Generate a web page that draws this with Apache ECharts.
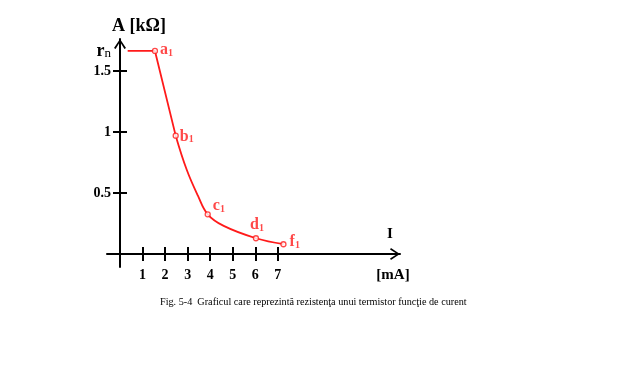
<!DOCTYPE html>
<html>
<head>
<meta charset="utf-8">
<script src="https://cdn.jsdelivr.net/npm/echarts@6/dist/echarts.min.js"></script>
<style>
html,body{margin:0;padding:0;background:#fff;}
#c{width:624px;height:370px;}
</style>
</head>
<body>
<div id="c"></div>
<script>
// ---- data ----
const xTicks = [1, 2, 3, 4, 5, 6, 7];
const yTicks = [0.5, 1, 1.5];
const rnValue = 1.664;
const segX = [0.34, 1.55, 2.47];
const segY = [1.664, 1.664, 0.97];
const curveX = [2.47, 2.96, 3.45, 3.89, 4.6, 6.03, 7.25];
const curveY = [0.97, 0.69, 0.48, 0.325, 0.23, 0.129, 0.08];
const markX = [1.55, 2.47, 3.89, 6.03, 7.25];
const markY = [1.664, 0.97, 0.325, 0.129, 0.08];
const markNames = ['a', 'b', 'c', 'd', 'f'];
const caption = 'Fig. 5-4  Graficul care reprezintă rezistenţa unui termistor funcţie de curent';

const serif = '"Liberation Serif", "Times New Roman", serif';
const red = '#ff1a1a';
const chevron = 'path://M0,9 L6,0 L12,9 L10.4,9.9 L6,2.8 L1.6,9.9 Z';

const labelPos = {
  a: {position: 'right', offset: [-1, -1]},
  b: {position: 'right', offset: [-2, 1]},
  c: {position: 'right', offset: [-1, -8]},
  d: {position: 'top', offset: [1, 1]},
  f: {position: 'right', offset: [0, -2]}
};

const pointRich = {
  m: {fontFamily: serif, fontSize: 16, fontWeight: 'bold', color: red, verticalAlign: 'bottom', lineHeight: 16},
  s: {fontFamily: serif, fontSize: 10, fontWeight: 'bold', color: red, verticalAlign: 'bottom', lineHeight: 16}
};

const chart = echarts.init(document.getElementById('c'), null, {renderer: 'canvas'});

const xMin = -0.577, xMax = 12.42;
const yMin = -0.1066, yMax = 1.762;

const tickLabelStyle = {fontFamily: serif, fontSize: 14, fontWeight: 'bold', color: '#000'};

chart.setOption({
  animation: false,
  backgroundColor: '#fff',
  title: {
    text: caption,
    left: 155,
    top: 292,
    textStyle: {fontFamily: serif, fontSize: 10.2, fontWeight: 'normal', color: '#000'}
  },
  grid: {left: 107, top: 39, right: 224, bottom: 103, containLabel: false},
  xAxis: [{
    type: 'value', min: xMin, max: xMax, position: 'bottom', offset: -13,
    axisLine: {onZero: false, show: true, lineStyle: {color: '#000', width: 2},
      symbol: ['none', chevron], symbolSize: [12, 10], symbolOffset: [0, -5]},
    axisTick: {show: true, inside: false, length: 7, lineStyle: {color: '#000', width: 2}, customValues: xTicks},
    axisLabel: {show: true, margin: 14, customValues: xTicks, ...tickLabelStyle},
    splitLine: {show: false},
    name: 'I', nameLocation: 'end', nameGap: -10,
    nameTextStyle: {fontFamily: serif, fontSize: 15, fontWeight: 'bold', color: '#000', align: 'center', verticalAlign: 'bottom', padding: [0, 0, 12, 0]}
  }, {
    type: 'value', min: xMin, max: xMax, position: 'bottom', offset: -13,
    axisLine: {onZero: false, show: false},
    axisTick: {show: true, inside: true, length: 7, lineStyle: {color: '#000', width: 2}, customValues: xTicks},
    axisLabel: {show: false},
    splitLine: {show: false},
    name: '[mA]', nameLocation: 'end', nameGap: -7,
    nameTextStyle: {fontFamily: serif, fontSize: 15, fontWeight: 'bold', color: '#000', align: 'center', verticalAlign: 'top', padding: [14, 0, 0, 0]}
  }],
  yAxis: [{
    type: 'value', min: yMin, max: yMax, position: 'left', offset: -13,
    axisLine: {onZero: false, show: true, lineStyle: {color: '#000', width: 2},
      symbol: ['none', chevron], symbolSize: [12, 10], symbolOffset: [0, -5]},
    axisTick: {show: true, inside: false, length: 7, lineStyle: {color: '#000', width: 2}, customValues: yTicks},
    axisLabel: {
      show: true, margin: 9, customValues: yTicks.concat([rnValue]), ...tickLabelStyle,
      formatter: function (v) { return Math.abs(v - rnValue) < 1e-6 ? '{r|r}{n|n}' : String(v); },
      rich: {
        r: {fontFamily: serif, fontSize: 18, fontWeight: 'bold', color: '#000', verticalAlign: 'bottom', lineHeight: 18},
        n: {fontFamily: serif, fontSize: 13, fontWeight: 'normal', color: '#000', verticalAlign: 'bottom', lineHeight: 18}
      }
    },
    splitLine: {show: false},
    name: 'A [kΩ]', nameLocation: 'end', nameGap: 13,
    nameTextStyle: {fontFamily: serif, fontSize: 18, fontWeight: 'bold', color: '#000', align: 'left', verticalAlign: 'middle', padding: [0, 0, 0, -8]}
  }, {
    type: 'value', min: yMin, max: yMax, position: 'left', offset: -13,
    axisLine: {onZero: false, show: false},
    axisTick: {show: true, inside: true, length: 7, lineStyle: {color: '#000', width: 2}, customValues: yTicks},
    axisLabel: {show: false},
    splitLine: {show: false}
  }],
  series: [{
    type: 'line',
    data: segX.map((x, i) => [x, segY[i]]),
    showSymbol: false,
    smooth: false,
    lineStyle: {color: red, width: 1.8},
    z: 3
  }, {
    type: 'line',
    data: curveX.map((x, i) => [x, curveY[i]]),
    showSymbol: false,
    smooth: 0.4,
    lineStyle: {color: red, width: 1.8},
    z: 3
  }, {
    type: 'scatter',
    data: markX.map((x, i) => ({
      value: [x, markY[i]],
      name: markNames[i],
      label: {show: true, formatter: '{m|' + markNames[i] + '}{s|1}', rich: pointRich,
        position: labelPos[markNames[i]].position, offset: labelPos[markNames[i]].offset, distance: 3}
    })),
    symbol: 'circle',
    symbolSize: 5,
    itemStyle: {color: '#fff', borderColor: red, borderWidth: 1.3},
    z: 4
  }]
});
</script>
</body>
</html>
